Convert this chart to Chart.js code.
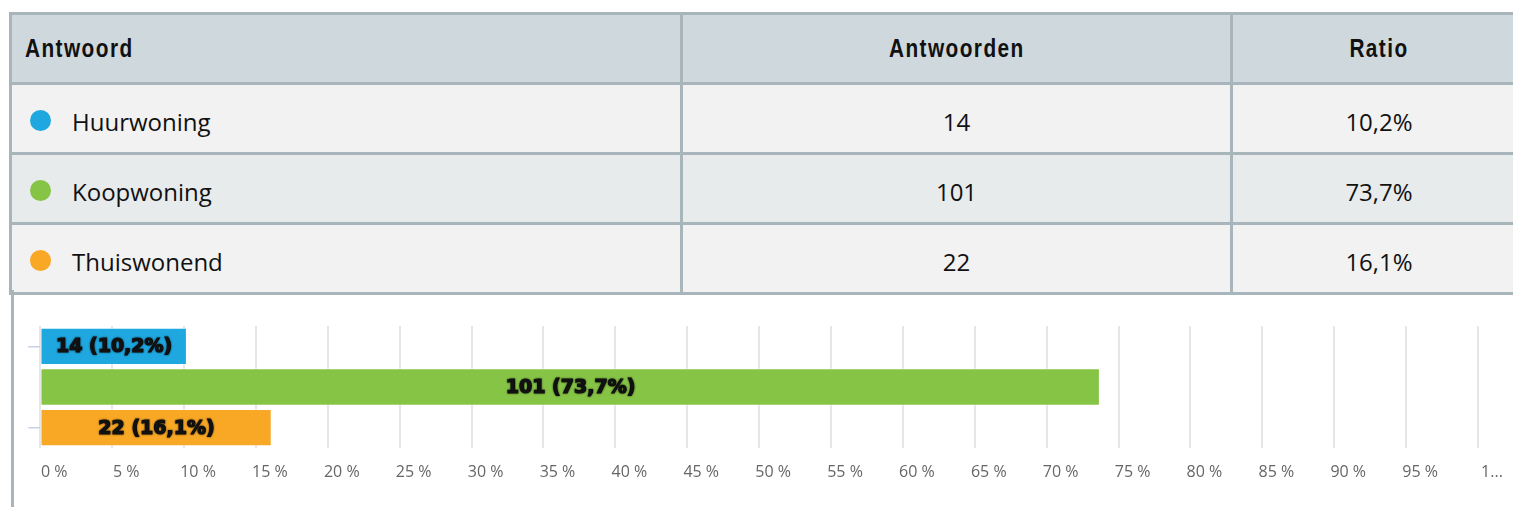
<!DOCTYPE html>
<html>
<head>
<meta charset="utf-8">
<script src="https://cdn.jsdelivr.net/npm/chart.js@4"></script>
<style>
  html, body { margin: 0; padding: 0; background: #fff; }
  body { width: 1513px; height: 507px; overflow: hidden; position: relative; }
  table {
    position: absolute; left: 9px; top: 12px;
    border-collapse: collapse; table-layout: fixed; width: 1516px;
  }
  th, td { border: 3px solid #a8b6bc; height: 67px; padding: 0; }
  th {
    background: #cfd8dc; font-family: "Liberation Sans", Arial, sans-serif;
    font-weight: bold; font-size: 26px; letter-spacing: 1.8px; color: #111;
  }
  th span { display: inline-block; transform: scaleX(0.8); transform-origin: center; }
  th.first { text-align: left; padding-left: 13px; }
  th.first span { transform-origin: left center; }
  td {
    font-family: "Open Sans", sans-serif; font-size: 24px; color: #111; text-align: center;
    height: 62px; padding-top: 5px;
  }
  td.first { text-align: left; padding-left: 18px; }
  tr.odd td { background: #f2f2f2; }
  tr.even td { background: #e8ebec; }
  .dot { display: inline-block; width: 21px; height: 21px; border-radius: 50%; vertical-align: 0px; margin-right: 21px; }
  #side { position: absolute; left: 11px; top: 290px; width: 3px; height: 220px; background: #a8b6bc; }
  #wrap { position: absolute; left: 12px; top: 297px; width: 1501px; height: 210px; }
</style>
</head>
<body>
<table id="tbl">
  <colgroup><col style="width:671px"><col style="width:550px"><col style="width:295px"></colgroup>
  <thead><tr><th class="first"><span>Antwoord</span></th><th><span>Antwoorden</span></th><th><span>Ratio</span></th></tr></thead>
  <tbody id="rows"></tbody>
</table>
<div id="side"></div>
<div id="wrap"><canvas id="chart"></canvas></div>
<script>
const categories = ['Huurwoning', 'Koopwoning', 'Thuiswonend']
const counts = [14, 101, 22]
const ratios = [10.2, 73.7, 16.1]
const colors = ['#1fa8e0', '#86c446', '#f9a825']

const fmt = v => v.toFixed(1).replace('.', ',') + '%'

// table rows
const rows = document.getElementById('rows')
categories.forEach((c, i) => {
  const tr = document.createElement('tr')
  tr.className = i % 2 === 0 ? 'odd' : 'even'
  tr.innerHTML =
    '<td class="first"><span class="dot" style="background:' + colors[i] + '"></span>' + c + '</td>' +
    '<td>' + counts[i] + '</td><td>' + fmt(ratios[i]) + '</td>'
  rows.appendChild(tr)
})

const barLabels = {
  id: 'barLabels',
  afterDatasetsDraw(chart) {
    const ctx = chart.ctx
    const meta = chart.getDatasetMeta(0)
    ctx.save()
    ctx.font = 'bold 19px "DejaVu Sans"'
    ctx.fillStyle = '#111'
    ctx.strokeStyle = '#111'
    ctx.lineWidth = 1.2
    ctx.textAlign = 'center'
    ctx.textBaseline = 'middle'
    ctx.shadowColor = 'rgba(0,0,0,0.6)'
    ctx.shadowBlur = 2
    meta.data.forEach((bar, i) => {
      const x = (bar.x + bar.base) / 2
      const txt = counts[i] + ' (' + fmt(ratios[i]) + ')'
      ctx.strokeText(txt, x, bar.y + 1)
      ctx.fillText(txt, x, bar.y + 1)
    })
    ctx.restore()
  }
}

new Chart(document.getElementById('chart'), {
  type: 'bar',
  data: {
    labels: categories,
    datasets: [
      {
        data: ratios,
        backgroundColor: colors,
        borderColor: 'rgba(255,255,255,0.5)',
        borderWidth: 1,
        categoryPercentage: 0.92,
        barPercentage: 1
      }
    ]
  },
  options: {
    indexAxis: 'y',
    responsive: true,
    maintainAspectRatio: false,
    animation: false,
    layout: { padding: { top: 29, right: 35, bottom: 0, left: 0 } },
    plugins: { legend: { display: false }, tooltip: { enabled: false } },
    scales: {
      x: {
        min: 0,
        max: 100,
        afterFit: s => { s.height = 59 },
        border: { display: false },
        grid: { color: '#e6e6e6', lineWidth: 2, drawTicks: false },
        ticks: {
          stepSize: 5,
          autoSkip: false,
          maxRotation: 0,
          labelOffset: 14,
          padding: 15,
          color: '#666',
          font: { family: 'Open Sans', size: 16 },
          callback: v => (v === 100 ? '1...' : v + ' %')
        }
      },
      y: {
        afterFit: s => { s.width = 27 },
        border: { display: false },
        grid: {
          offset: false,
          drawOnChartArea: false,
          tickLength: 12,
          lineWidth: 1.5,
          color: c => (c.index === 1 ? 'rgba(0,0,0,0)' : '#c9d0e3')
        },
        ticks: { display: false }
      }
    }
  },
  plugins: [barLabels]
})
</script>
</body>
</html>
